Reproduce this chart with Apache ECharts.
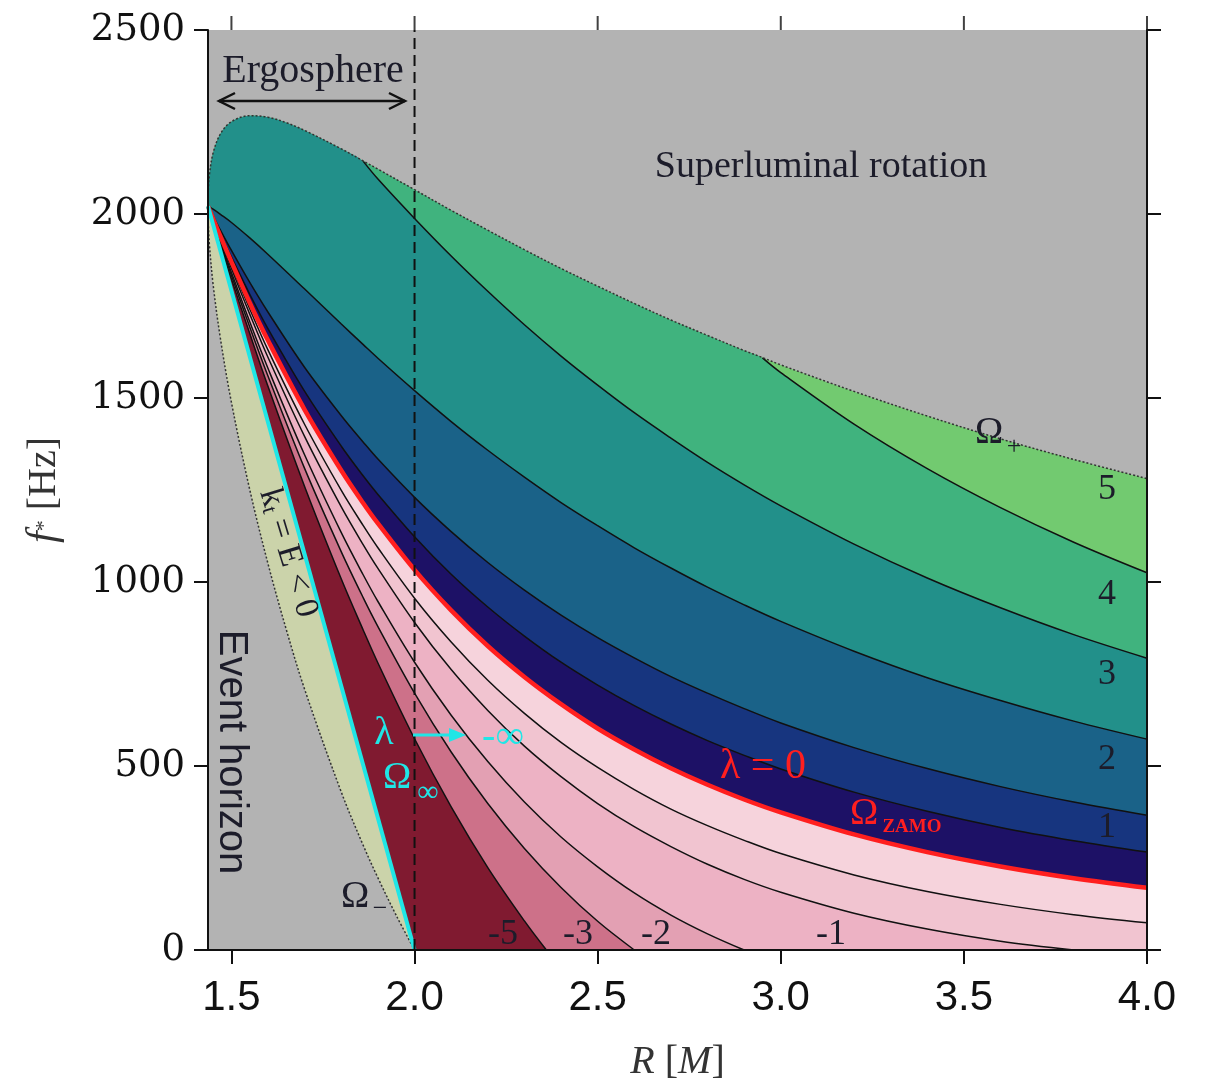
<!DOCTYPE html>
<html>
<head>
<meta charset="utf-8">
<script src="https://cdn.jsdelivr.net/npm/echarts@6/dist/echarts.min.js"></script>
<style>
  html, body { margin: 0; padding: 0; background: #fff; }
  #chart { width: 1209px; height: 1089px; }
</style>
</head>
<body>
<div id="chart"></div>
<script>
// R [M] tick values on the x axis
const radiusTicks = [1.5, 2.0, 2.5, 3.0, 3.5, 4.0];

// boundaries of the allowed region, [R, f*] in Hz
const omegaPlus = [[1.436, 2021], [1.437, 2069], [1.44, 2108], [1.45, 2166], [1.47, 2218], [1.5, 2251], [1.55, 2267],
  [1.6, 2263], [1.65, 2248], [1.7, 2227], [1.8, 2177], [1.86, 2144], [1.9, 2122], [2.0, 2066], [2.1, 2010], [2.2, 1956],
  [2.3, 1903], [2.4, 1852], [2.5, 1804], [2.6, 1757], [2.7, 1712], [2.8, 1670], [2.9, 1629], [2.95, 1610], [3.0, 1590],
  [3.2, 1518], [3.4, 1451], [3.6, 1389], [3.8, 1333], [4.0, 1281]];
const omegaMinus = [[1.436, 2021], [1.437, 1968], [1.44, 1915], [1.45, 1808], [1.47, 1661], [1.5, 1488], [1.55, 1251],
  [1.6, 1049], [1.65, 870], [1.7, 708], [1.8, 429], [1.86, 284], [1.9, 196], [1.95, 94], [2.0, 0]];
const omegaInf = [[1.436, 2021], [2.0, 0]];
// ergosphere edge
const ergoEdge = [[2.0, 0], [2.0, 2500]];

// lambda contours
const lambdaP4 = [[2.95, 1609], [3.0, 1569], [3.2, 1429], [3.4, 1308], [3.6, 1202], [3.8, 1108], [4.0, 1025]];
const lambdaP3 = [[1.86, 2143], [1.9, 2095], [2.0, 1988], [2.1, 1886], [2.2, 1790], [2.3, 1699], [2.4, 1614], [2.5, 1535],
  [2.6, 1460], [2.7, 1391], [2.8, 1325], [2.9, 1264], [3.0, 1207], [3.2, 1103], [3.4, 1011], [3.6, 930], [3.8, 857], [4.0, 793]];
const lambdaP2 = [[1.436, 2021], [1.44, 2019], [1.45, 2013], [1.47, 1999], [1.5, 1977], [1.55, 1935], [1.6, 1890], [1.7, 1796],
  [1.8, 1701], [1.86, 1645], [1.9, 1608], [2.0, 1520], [2.1, 1436], [2.2, 1358], [2.3, 1285], [2.4, 1216], [2.5, 1153],
  [2.6, 1093], [2.7, 1038], [2.8, 986], [2.9, 938], [3.0, 893], [3.2, 812], [3.4, 740], [3.6, 678], [3.8, 622], [4.0, 573]];
const lambdaP1 = [[1.436, 2021], [1.44, 2013], [1.45, 1994], [1.47, 1956], [1.5, 1901], [1.55, 1814], [1.6, 1733], [1.7, 1583],
  [1.8, 1452], [1.86, 1380], [1.9, 1334], [2.0, 1230], [2.1, 1137], [2.2, 1053], [2.3, 978], [2.4, 910], [2.5, 849],
  [2.6, 794], [2.7, 743], [2.8, 698], [2.9, 656], [3.0, 617], [3.2, 550], [3.4, 493], [3.6, 444], [3.8, 402], [4.0, 366]];
const lambdaP05 = [[1.436, 2021], [1.44, 2012], [1.45, 1990], [1.47, 1946], [1.5, 1883], [1.55, 1782], [1.6, 1688], [1.7, 1518],
  [1.8, 1369], [1.86, 1288], [1.9, 1238], [2.0, 1123], [2.1, 1021], [2.2, 932], [2.3, 853], [2.4, 782], [2.5, 720],
  [2.6, 664], [2.7, 614], [2.8, 569], [2.9, 529], [3.0, 492], [3.2, 429], [3.4, 377], [3.6, 333], [3.8, 297], [4.0, 266]];
const lambdaZero = [[1.436, 2021], [1.44, 2011], [1.45, 1987], [1.47, 1939], [1.5, 1870], [1.55, 1759], [1.6, 1656], [1.7, 1468],
  [1.8, 1303], [1.86, 1214], [1.9, 1159], [2.0, 1033], [2.1, 923], [2.2, 826], [2.3, 742], [2.4, 668], [2.5, 602],
  [2.6, 545], [2.7, 494], [2.8, 449], [2.9, 409], [3.0, 374], [3.2, 314], [3.4, 266], [3.6, 227], [3.8, 195], [4.0, 169]];
const lambdaM05 = [[1.436, 2021], [1.44, 2011], [1.45, 1985], [1.47, 1934], [1.5, 1860], [1.55, 1742], [1.6, 1630], [1.7, 1428],
  [1.8, 1249], [1.86, 1153], [1.9, 1093], [2.0, 956], [2.1, 837], [2.2, 733], [2.3, 643], [2.4, 564], [2.5, 496],
  [2.6, 436], [2.7, 383], [2.8, 338], [2.9, 298], [3.0, 262], [3.2, 204], [3.4, 159], [3.6, 124], [3.8, 96], [4.0, 74]];
const lambdaM1 = [[1.436, 2021], [1.44, 2010], [1.45, 1983], [1.47, 1930], [1.5, 1852], [1.55, 1728], [1.6, 1610], [1.7, 1395],
  [1.8, 1204], [1.86, 1101], [1.9, 1037], [2.0, 890], [2.1, 762], [2.2, 651], [2.3, 554], [2.4, 471], [2.5, 398],
  [2.6, 335], [2.7, 281], [2.8, 233], [2.9, 192], [3.0, 157], [3.2, 100], [3.4, 57], [3.6, 24], [3.8, 0]];
const lambdaM2 = [[1.436, 2021], [1.44, 2010], [1.45, 1981], [1.47, 1924], [1.5, 1841], [1.55, 1707], [1.6, 1580], [1.7, 1345],
  [1.8, 1134], [1.86, 1019], [1.9, 947], [2.0, 782], [2.1, 638], [2.2, 512], [2.3, 402], [2.4, 307], [2.5, 226],
  [2.6, 155], [2.7, 95], [2.8, 44], [2.9, 0]];
const lambdaM3 = [[1.436, 2021], [1.44, 2009], [1.45, 1979], [1.47, 1920], [1.5, 1833], [1.55, 1693], [1.6, 1559], [1.7, 1308],
  [1.8, 1082], [1.86, 957], [1.9, 879], [2.0, 698], [2.1, 538], [2.2, 398], [2.3, 276], [2.4, 170], [2.5, 78], [2.6, 0]];
const lambdaM5 = [[1.436, 2021], [1.44, 2008], [1.45, 1977], [1.47, 1915], [1.5, 1823], [1.55, 1675], [1.6, 1531], [1.7, 1259],
  [1.8, 1008], [1.86, 869], [1.9, 780], [2.0, 574], [2.1, 389], [2.2, 224], [2.3, 79], [2.36, 0]];

// contour tops: below the crossing with omega+ the band is capped by omega+
const capWithOmegaPlus = (line) => omegaPlus.filter((p) => p[0] < line[0][0]).concat(line);

const serif = '"Liberation Serif", "Times New Roman", serif';
const sans = '"Liberation Sans", Arial, sans-serif';
const ink = '#1c1c2a';
const red = '#ff1f1f';
const cyan = '#20e6e6';
const SMOOTH = 0.35;

const fills = [
  [omegaPlus, '#72ca70'],
  [capWithOmegaPlus(lambdaP4), '#40b37e'],
  [capWithOmegaPlus(lambdaP3), '#22908a'],
  [lambdaP2, '#1a6288'],
  [lambdaP1, '#17357f'],
  [lambdaP05, '#1d1166'],
  [lambdaZero, '#f6d3dc'],
  [lambdaM05, '#f1c4d0'],
  [lambdaM1, '#edb2c4'],
  [lambdaM2, '#e3a0b3'],
  [lambdaM3, '#cd7189'],
  [lambdaM5, '#801a30'],
  [omegaInf, '#cbd3aa'],
  [omegaMinus, '#b3b3b3'],
];

const fillSeries = fills.map(([data, color], i) => ({
  type: 'line',
  data: data,
  symbol: 'none',
  smooth: SMOOTH,
  silent: true,
  z: 1 + i,
  lineStyle: { width: 0, opacity: 0 },
  areaStyle: { color: color, opacity: 1, origin: 'start' },
}));

const stroke = (data, color, width, type) => ({
  type: 'line',
  data: data,
  symbol: 'none',
  smooth: SMOOTH,
  silent: true,
  z: 20,
  lineStyle: { color: color, width: width, type: type || 'solid' },
});

const strokeSeries = [
  stroke(lambdaP4, '#111', 1.5),
  stroke(lambdaP3, '#111', 1.5),
  stroke(lambdaP2, '#111', 1.5),
  stroke(lambdaP1, '#111', 1.5),
  stroke(lambdaP05, '#111', 1.5),
  stroke(lambdaM05, '#111', 1.5),
  stroke(lambdaM1, '#111', 1.5),
  stroke(lambdaM2, '#111', 1.5),
  stroke(lambdaM3, '#111', 1.5),
  stroke(lambdaM5, '#111', 1.5),
  stroke(omegaPlus, '#333', 1.5, [2, 2]),
  stroke(omegaMinus, '#333', 1.5, [2, 2]),
  stroke(lambdaZero, red, 4.5),
  stroke(omegaInf, cyan, 4),
  { ...stroke(ergoEdge, '#111', 2, [11, 6]), smooth: false, z: 22 },
  // tick marks of the top frame edge
  {
    type: 'scatter',
    data: radiusTicks.map((r) => [r, 2500]),
    symbol: 'rect',
    symbolSize: [2, 14],
    symbolOffset: [0, -7],
    itemStyle: { color: '#111' },
    clip: false,
    silent: true,
    z: 45,
  },
];

const txt = (text, x, y, font, fill, extra) => ({
  type: 'text', x: x, y: y, z: 50,
  style: Object.assign({ text: text, font: font, fill: fill, align: 'center', verticalAlign: 'middle' }, extra || {}),
});

const horizonLabel = txt('Event horizon', 231, 752, `40px ${sans}`, ink);
horizonLabel.rotation = -Math.PI / 2;

const graphics = [
  txt('Ergosphere', 313, 71, `40px ${serif}`, ink),
  { type: 'line', z: 50, shape: { x1: 219, y1: 101, x2: 405, y2: 101 }, style: { stroke: '#111', lineWidth: 2.5 } },
  { type: 'polyline', z: 50, shape: { points: [[235, 93], [219, 101], [235, 109]] }, style: { stroke: '#111', lineWidth: 2.5, fill: null } },
  { type: 'polyline', z: 50, shape: { points: [[389, 93], [405, 101], [389, 109]] }, style: { stroke: '#111', lineWidth: 2.5, fill: null } },
  txt('Superluminal rotation', 821, 167, `38px ${serif}`, ink),
  txt('Ω', 989, 433, `38px ${serif}`, ink),
  txt('+', 1014, 447, `26px ${serif}`, ink),
  txt('5', 1107, 490, `36px ${serif}`, ink),
  txt('4', 1107, 595, `36px ${serif}`, ink),
  txt('3', 1107, 675, `36px ${serif}`, ink),
  txt('2', 1107, 760, `36px ${serif}`, ink),
  txt('1', 1107, 828, `36px ${serif}`, ink),
  txt('-5', 503, 935, `36px ${serif}`, ink),
  txt('-3', 578, 935, `36px ${serif}`, ink),
  txt('-2', 656, 935, `36px ${serif}`, ink),
  txt('-1', 831, 935, `36px ${serif}`, ink),
  txt('λ = 0', 763, 767, `42px ${serif}`, red),
  txt('Ω', 864, 814, `38px ${serif}`, red),
  txt('ZAMO', 912, 827, `bold 19px ${serif}`, red),
  txt('λ', 384, 733, `40px ${serif}`, cyan),
  { type: 'line', z: 50, shape: { x1: 413, y1: 735, x2: 452, y2: 735 }, style: { stroke: cyan, lineWidth: 3 } },
  { type: 'polygon', z: 50, shape: { points: [[449, 728], [466, 735], [449, 742]] }, style: { fill: cyan } },
  txt('-∞', 503, 737, `40px ${serif}`, cyan),
  txt('Ω', 397, 778, `38px ${serif}`, cyan),
  txt('∞', 428, 793, `30px ${serif}`, cyan),
  txt('Ω', 355, 897, `38px ${serif}`, ink),
  txt('−', 380, 909, `26px ${serif}`, ink),
  horizonLabel,
  {
    type: 'text', x: 288, y: 553, z: 50, rotation: -1.274,
    style: {
      text: '{a|k}{b|t}{a| = E < 0}', align: 'center', verticalAlign: 'middle',
      rich: {
        a: { font: `34px ${serif}`, fill: ink, verticalAlign: 'bottom', lineHeight: 34 },
        b: { font: `22px ${serif}`, fill: ink, verticalAlign: 'bottom', lineHeight: 30 },
      },
    },
  },
];

const axisBase = {
  type: 'value',
  axisLine: { show: true, lineStyle: { color: '#111', width: 2 } },
  splitLine: { show: false },
  z: 40,
};

const option = {
  animation: false,
  backgroundColor: '#ffffff',
  grid: { left: 208, right: 62, top: 30, bottom: 139, show: true, backgroundColor: '#b3b3b3', borderWidth: 0 },
  xAxis: [
    {
      ...axisBase,
      position: 'bottom',
      min: 1.436,
      max: 4.0,
      axisTick: { show: true, customValues: radiusTicks, length: 14, lineStyle: { color: '#111', width: 2 } },
      axisLabel: {
        customValues: radiusTicks, formatter: (v) => v.toFixed(1),
        fontFamily: sans, fontSize: 42, color: '#111', margin: 27,
      },
      name: '{i|R}{n| [}{i|M}{n|]}',
      nameLocation: 'middle',
      nameGap: 92,
      nameTextStyle: {
        rich: {
          i: { fontFamily: serif, fontStyle: 'italic', fontSize: 40, color: '#333' },
          n: { fontFamily: serif, fontSize: 40, color: '#333' },
        },
      },
    },
    {
      ...axisBase,
      position: 'top',
      min: 1.436,
      max: 4.0,
      axisTick: { show: false },
      axisLabel: { show: false },
    },
  ],
  yAxis: [
    {
      ...axisBase,
      position: 'left',
      min: 0,
      max: 2500,
      interval: 500,
      axisTick: { length: 14, lineStyle: { color: '#111', width: 2 } },
      axisLabel: { formatter: (v) => String(v), fontFamily: '"DejaVu Serif", serif', fontSize: 37, color: '#111', margin: 23 },
      name: '{i|f}{s|*}{n| [Hz]}',
      nameLocation: 'middle',
      nameGap: 143,
      nameRotate: 90,
      nameTextStyle: {
        rich: {
          i: { fontFamily: serif, fontStyle: 'italic', fontSize: 42, color: '#333' },
          s: { fontFamily: serif, fontSize: 22, color: '#333' },
          n: { fontFamily: serif, fontSize: 40, color: '#333' },
        },
      },
    },
    {
      ...axisBase,
      position: 'right',
      min: 0,
      max: 2500,
      interval: 500,
      axisTick: { length: 14, lineStyle: { color: '#111', width: 2 } },
      axisLabel: { show: false },
    },
  ],
  series: fillSeries.concat(strokeSeries),
  graphic: graphics,
};

const chart = echarts.init(document.getElementById('chart'));
chart.setOption(option);
</script>
</body>
</html>
